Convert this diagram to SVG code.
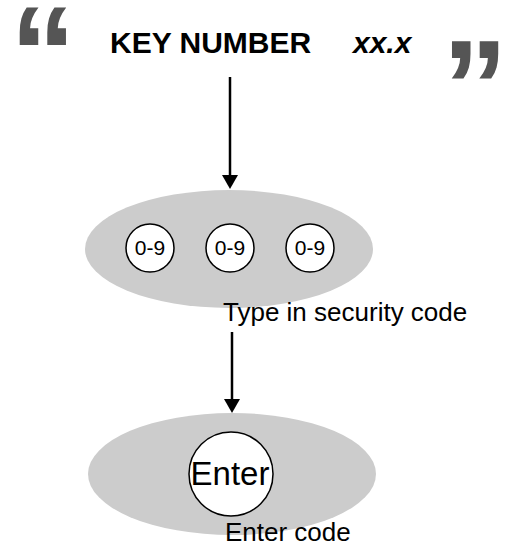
<svg xmlns="http://www.w3.org/2000/svg" width="512" height="546" viewBox="0 0 512 546">
<style>
text{font-family:"Liberation Sans",Arial,Helvetica,sans-serif;fill:#000}
.quote{font-weight:bold;fill:#555;font-size:132px}
.pad{fill:#cccccc;stroke:none}
.key{fill:#fff;stroke:#000;stroke-width:1.5}
.lbl{font-size:26px}
.conn{stroke:#000;stroke-width:2.5;fill:none}
</style>
<g id="title">
<text class="quote" x="10" y="99">“</text>
<text x="110" y="53" font-size="30" font-weight="bold">KEY NUMBER</text>
<text x="353" y="53" font-size="30" font-weight="bold" font-style="italic">xx.x</text>
<text class="quote" x="442" y="132">”</text>
</g>
<g id="connectors">
<line class="conn" x1="230" y1="77" x2="230" y2="176"/>
<path d="M222,175 L238,175 L230,189 Z" fill="#000"/>
<line class="conn" x1="232" y1="332" x2="232" y2="400"/>
<path d="M224,399 L240,399 L232,413 Z" fill="#000"/>
</g>
<g id="security-code">
<ellipse class="pad" cx="229" cy="249" rx="144" ry="59"/>
<circle class="key" cx="150" cy="248" r="24"/>
<circle class="key" cx="230" cy="248" r="24"/>
<circle class="key" cx="310" cy="248" r="24"/>
<text x="150" y="255" font-size="21" text-anchor="middle">0-9</text>
<text x="230" y="255" font-size="21" text-anchor="middle">0-9</text>
<text x="310" y="255" font-size="21" text-anchor="middle">0-9</text>
<text class="lbl" x="223" y="321">Type in security code</text>
</g>
<g id="enter-code">
<ellipse class="pad" cx="232" cy="474" rx="144" ry="61"/>
<circle class="key" cx="231" cy="474" r="42"/>
<text x="230" y="485" font-size="33" text-anchor="middle">Enter</text>
<text class="lbl" x="225" y="541">Enter code</text>
</g>
</svg>
